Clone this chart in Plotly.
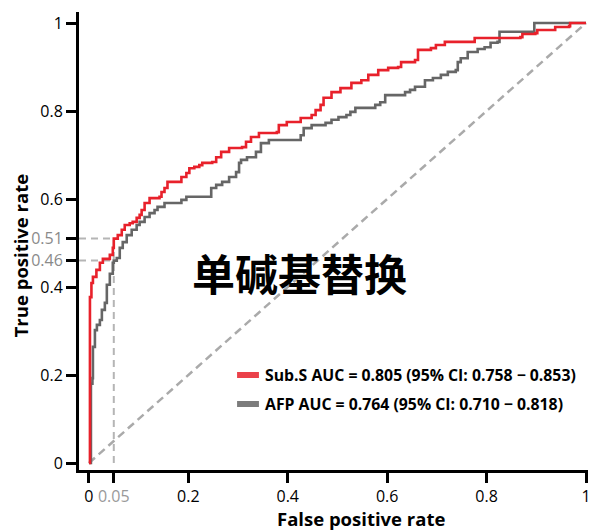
import plotly.graph_objects as go

# ROC curve points (false positive rate, true positive rate)
subs_fpr = [0, 0.002, 0.002, 0.005, 0.008, 0.015, 0.022, 0.028, 0.042, 0.048, 0.05, 0.058, 0.066,
            0.072, 0.082, 0.088, 0.096, 0.102, 0.106, 0.112, 0.122, 0.142, 0.146, 0.152, 0.158,
            0.178, 0.186, 0.196, 0.202, 0.212, 0.222, 0.228, 0.248, 0.256, 0.266, 0.282, 0.308,
            0.316, 0.326, 0.342, 0.378, 0.382, 0.398, 0.426, 0.448, 0.456, 0.466, 0.472, 0.488,
            0.506, 0.528, 0.548, 0.562, 0.582, 0.602, 0.622, 0.628, 0.656, 0.662, 0.688, 0.698,
            0.716, 0.776, 0.868, 0.872, 0.898, 0.902, 0.938, 0.966, 0.968, 1.0]
subs_tpr = [0, 0, 0.377, 0.409, 0.423, 0.439, 0.455, 0.464, 0.473, 0.489, 0.51, 0.518, 0.530,
            0.541, 0.545, 0.548, 0.557, 0.564, 0.575, 0.591, 0.602, 0.605, 0.616, 0.625, 0.639,
            0.639, 0.650, 0.659, 0.670, 0.673, 0.677, 0.682, 0.684, 0.695, 0.707, 0.716, 0.718,
            0.730, 0.741, 0.750, 0.752, 0.768, 0.775, 0.784, 0.791, 0.802, 0.814, 0.830, 0.843,
            0.852, 0.864, 0.870, 0.882, 0.893, 0.898, 0.900, 0.911, 0.916, 0.939, 0.943, 0.950,
            0.957, 0.966, 0.968, 0.975, 0.977, 0.984, 0.991, 0.993, 1.0, 1.0]

afp_fpr = [0, 0.004, 0.004, 0.007, 0.008, 0.012, 0.016, 0.022, 0.026, 0.032, 0.036, 0.042, 0.048,
           0.05, 0.056, 0.062, 0.068, 0.076, 0.086, 0.096, 0.102, 0.112, 0.122, 0.132, 0.138,
           0.152, 0.178, 0.186, 0.196, 0.238, 0.246, 0.256, 0.268, 0.282, 0.296, 0.302, 0.306,
           0.318, 0.336, 0.346, 0.362, 0.416, 0.426, 0.432, 0.448, 0.476, 0.488, 0.502, 0.518,
           0.526, 0.536, 0.562, 0.576, 0.586, 0.596, 0.622, 0.636, 0.646, 0.656, 0.666, 0.676,
           0.692, 0.708, 0.722, 0.738, 0.742, 0.748, 0.762, 0.782, 0.796, 0.808, 0.822, 0.826,
           0.886, 0.896, 1.0]
afp_tpr = [0, 0, 0.18, 0.193, 0.264, 0.302, 0.314, 0.325, 0.348, 0.364, 0.405, 0.430, 0.455,
           0.46, 0.466, 0.489, 0.502, 0.518, 0.530, 0.541, 0.548, 0.559, 0.568, 0.575, 0.582,
           0.591, 0.591, 0.598, 0.605, 0.605, 0.625, 0.632, 0.639, 0.650, 0.661, 0.682, 0.689,
           0.695, 0.707, 0.727, 0.734, 0.734, 0.745, 0.761, 0.768, 0.773, 0.780, 0.786, 0.791,
           0.798, 0.807, 0.807, 0.814, 0.820, 0.836, 0.836, 0.843, 0.848, 0.855, 0.855, 0.870,
           0.875, 0.882, 0.889, 0.893, 0.911, 0.920, 0.934, 0.941, 0.945, 0.955, 0.957, 0.980,
           0.980, 1.0, 1.0]

legend_labels = ["Sub.S AUC = 0.805 (95% CI: 0.758 \u2212 0.853)",
                 "AFP AUC = 0.764 (95% CI: 0.710 \u2212 0.818)"]
series_colors = ["#E8212B", "#666666"]

# sensitivity at 95% specificity
spec_fpr = 0.05
sens_values = [0.51, 0.46]

x_ticks = [0, 0.05, 0.2, 0.4, 0.6, 0.8, 1]
x_ticktext = ["0", '<span style="color:#9a9a9a">0.05</span>', "0.2", "0.4", "0.6", "0.8", "1"]
y_ticks = [0, 0.2, 0.4, 0.46, 0.51, 0.6, 0.8, 1]
y_ticktext = ["0", "0.2", "0.4", '<span style="color:#8a8a8a">0.46</span>',
              '<span style="color:#8a8a8a">0.51</span>', "0.6", "0.8", "1"]

title_text = "单碱基替换"

fig = go.Figure()

# chance diagonal
fig.add_trace(go.Scatter(x=[0, 1], y=[0, 1], mode="lines",
                         line=dict(color="#AAAAAA", width=2.5, dash="8px,5px"),
                         hoverinfo="skip", showlegend=False))

# cut-off guides
ref_style = dict(color="#B5B5B5", width=2, dash="7px,5px")
fig.add_trace(go.Scatter(x=[spec_fpr, spec_fpr], y=[0, max(sens_values)], mode="lines",
                         line=ref_style, hoverinfo="skip", showlegend=False))
for s in sens_values:
    fig.add_trace(go.Scatter(x=[-0.02, spec_fpr], y=[s, s], mode="lines",
                             line=ref_style, hoverinfo="skip", showlegend=False))

fig.add_trace(go.Scatter(x=afp_fpr, y=afp_tpr, mode="lines", line_shape="hv",
                         line=dict(color=series_colors[1], width=2.6), name=legend_labels[1],
                         showlegend=False))
fig.add_trace(go.Scatter(x=subs_fpr, y=subs_tpr, mode="lines", line_shape="hv",
                         line=dict(color=series_colors[0], width=2.6), name=legend_labels[0],
                         showlegend=False))

W, H = 591, 530
L, R, T, B = 79, 0, 12, 60
pw, ph = W - L - R, H - T - B


def px(xp):
    return (xp - L) / pw


def py(yp):
    return (H - B - yp) / ph


axis_common = dict(showline=True, linecolor="black", linewidth=3, ticks="outside",
                   ticklen=10, tickwidth=3, tickcolor="black", showgrid=False,
                   zeroline=False, ticklabeloverflow="allow",
                   tickfont=dict(family="Open Sans", size=16, color="black"))
fig.update_xaxes(range=[-0.02, 1.004], tickvals=x_ticks, ticktext=x_ticktext, **axis_common)
fig.update_yaxes(range=[-0.0159, 1.025], tickvals=y_ticks, ticktext=y_ticktext, **axis_common)

annotations = [
    dict(text="<b>False positive rate</b>", x=px(363), y=py(518), xref="paper", yref="paper",
         showarrow=False, xanchor="center", yanchor="middle",
         font=dict(family="Open Sans", size=18.5, color="black")),
    dict(text="<b>True positive rate</b>", x=px(21), y=py(255), xref="paper", yref="paper",
         showarrow=False, xanchor="center", yanchor="middle", textangle=-90,
         font=dict(family="Open Sans", size=18.5, color="black")),
    dict(text="<b>" + title_text + "</b>", x=px(301), y=py(272), xref="paper", yref="paper",
         showarrow=False, xanchor="center", yanchor="middle",
         font=dict(family="Noto Sans CJK SC", size=43, color="black")),
]
shapes = []
for i, (lab, col) in enumerate(zip(legend_labels, series_colors)):
    yy = 375 + i * 29
    shapes.append(dict(type="line", xref="paper", yref="paper", x0=px(238), x1=px(260),
                       y0=py(yy), y1=py(yy), line=dict(color=col, width=6), opacity=0.85))
    annotations.append(dict(text="<b>" + lab + "</b>", x=px(264), y=py(yy), xref="paper",
                            yref="paper", showarrow=False, xanchor="left", yanchor="middle",
                            font=dict(family="Open Sans", size=15.8, color="black")))

fig.update_layout(width=W, height=H, margin=dict(l=L, r=R, t=T, b=B),
                  plot_bgcolor="white", paper_bgcolor="white",
                  annotations=annotations, shapes=shapes, showlegend=False)

fig.write_html("out.html")
